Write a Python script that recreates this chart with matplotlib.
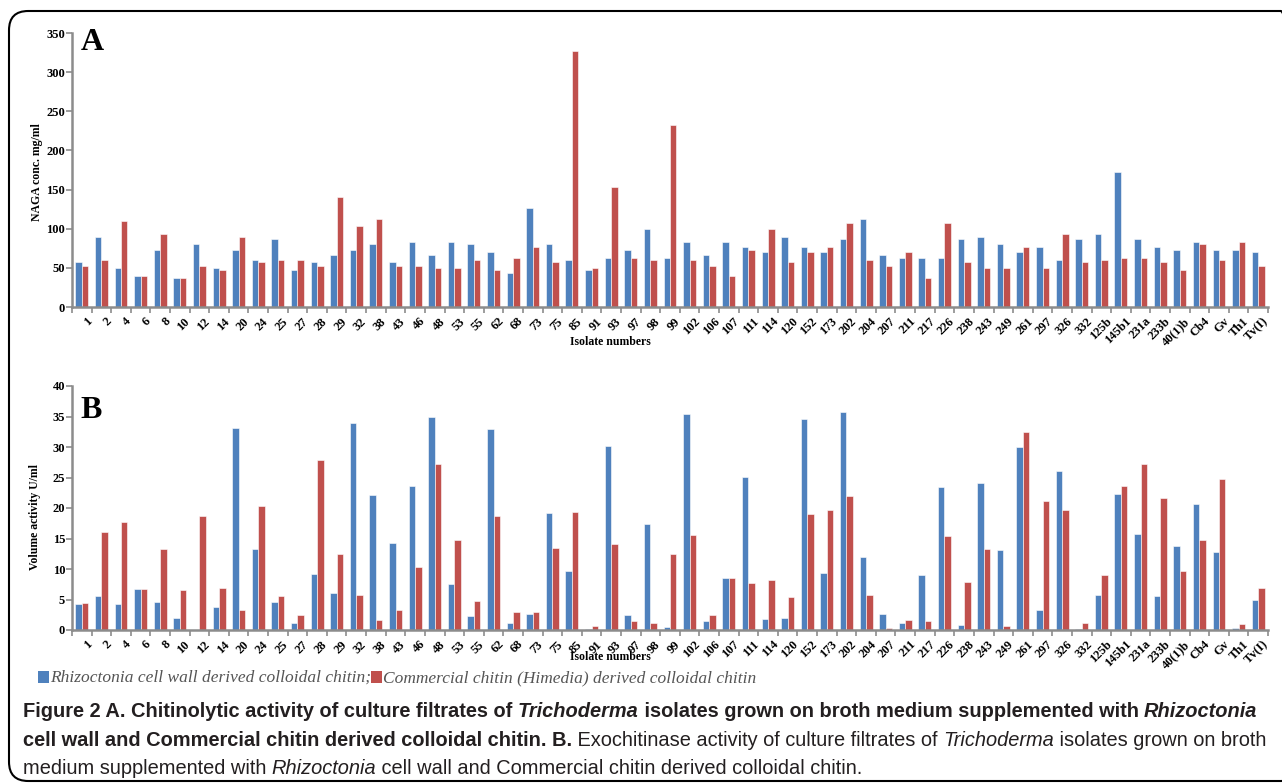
import matplotlib.pyplot as plt
import numpy as np
from matplotlib.patches import FancyBboxPatch, Rectangle
from matplotlib.transforms import ScaledTranslation

isolates = ['1', '2', '4', '6', '8', '10', '12', '14', '20', '24', '25', '27', '28', '29',
            '32', '38', '43', '46', '48', '53', '55', '62', '68', '73', '75', '85', '91',
            '93', '97', '98', '99', '102', '106', '107', '111', '114', '120', '152', '173',
            '202', '204', '207', '211', '217', '226', '238', '243', '249', '261', '297',
            '326', '332', '125b', '145b1', '231a', '233b', '40(1)b', 'Cb4', 'Gv', 'Th1', 'Tv(I)']

# panel A: NAGA conc. mg/ml
naga_rhizoctonia = [57, 90, 50, 40, 73, 37, 80, 50, 73, 60, 87, 47, 57, 67, 73, 80, 57, 83, 67,
                    83, 80, 70, 43, 127, 80, 60, 47, 63, 73, 100, 63, 83, 67, 83, 77, 70, 90,
                    77, 70, 87, 113, 67, 63, 63, 63, 87, 90, 80, 70, 77, 60, 87, 93, 173, 87,
                    77, 73, 83, 73, 73, 70]
naga_commercial = [53, 60, 110, 40, 93, 37, 53, 47, 90, 57, 60, 60, 53, 140, 103, 113, 53, 53,
                   50, 50, 60, 47, 63, 77, 57, 327, 50, 153, 63, 60, 233, 60, 53, 40, 73, 100,
                   57, 70, 77, 107, 60, 53, 70, 37, 107, 57, 50, 50, 77, 50, 93, 57, 60, 63,
                   63, 57, 47, 80, 60, 83, 53]

# panel B: volume activity U/ml
exo_rhizoctonia = [4.2, 5.5, 4.2, 6.7, 4.65, 2.0, 0.0, 3.7, 33.1, 13.35, 4.65, 1.15, 9.2, 6.0,
                   33.9, 22.2, 14.3, 23.6, 34.95, 7.5, 2.3, 32.9, 1.15, 2.7, 19.2, 9.7, 0.15,
                   30.2, 2.5, 17.3, 0.55, 35.4, 1.4, 8.6, 25.1, 1.8, 2.0, 34.6, 9.35, 35.7,
                   12.0, 2.7, 1.15, 9.0, 23.4, 0.77, 24.1, 13.1, 30.0, 3.3, 26.1, 0.15, 5.75,
                   22.3, 15.8, 5.6, 13.7, 20.7, 12.8, 0.4, 4.9]
exo_commercial = [4.4, 16.1, 17.7, 6.7, 13.3, 6.5, 18.65, 6.9, 3.3, 20.35, 5.6, 2.5, 27.8, 12.4,
                  5.7, 1.6, 3.3, 10.3, 27.2, 14.7, 4.8, 18.65, 2.95, 2.9, 13.5, 19.4, 0.7, 14.1,
                  1.4, 1.15, 12.4, 15.6, 2.5, 8.6, 7.65, 8.2, 5.4, 19.0, 19.6, 22.0, 5.7, 0.4,
                  1.6, 1.4, 15.4, 7.8, 13.35, 0.6, 32.5, 21.1, 19.75, 1.15, 9.0, 23.6, 27.2,
                  21.7, 9.6, 14.8, 24.8, 1.0, 6.9]

BLUE = '#4F81BD'
RED = '#C0504D'
GRAY = '#8C8C8C'
SERIF = 'Liberation Serif'
CAPFONT = ['Liberation Sans', 'DejaVu Sans']

W, H = 1282, 783
fig = plt.figure(figsize=(W / 100, H / 100), dpi=100)


def px(x, y):
    return x / W, 1 - y / H


def draw_panel(ax, blue_vals, red_vals, ymax, ystep, letter, letter_y, ylabel, ylab_xy, xlab_y):
    n = len(isolates)
    x = np.arange(n)
    w = 0.33
    ax.bar(x - w / 2, blue_vals, w, color=BLUE, edgecolor='white', linewidth=0.4)
    ax.bar(x + w / 2, red_vals, w, color=RED, edgecolor='white', linewidth=0.4)
    ax.set_xlim(-0.5, n - 0.5)
    ax.set_ylim(0, ymax)
    ax.set_yticks(np.arange(0, ymax + 1, ystep))
    for s in ['top', 'right']:
        ax.spines[s].set_visible(False)
    for s in ['left', 'bottom']:
        ax.spines[s].set_color(GRAY)
        ax.spines[s].set_linewidth(1.8)
    ax.set_xticks(np.arange(-0.5, n, 1))
    ax.set_xticks(x, minor=True)
    ax.set_xticklabels(isolates, minor=True, rotation=45, ha='right', va='top',
                       rotation_mode='anchor', fontfamily=SERIF, fontweight='bold', fontsize=9)
    ax.tick_params(axis='x', which='major', length=4, width=1.2, color=GRAY, labelbottom=False)
    ax.tick_params(axis='x', which='minor', length=0, pad=6)
    for lab in ax.get_xticklabels(minor=True):
        lab.set_transform(lab.get_transform() + ScaledTranslation(3 / 72, 0, fig.dpi_scale_trans))
    ax.tick_params(axis='y', length=4, width=1.2, color=GRAY, pad=1)
    for lab in ax.get_yticklabels():
        lab.set_fontfamily(SERIF)
        lab.set_fontweight('bold')
        lab.set_fontsize(9)
    ax.text(0.007, letter_y, letter, transform=ax.transAxes, fontsize=23, fontweight='bold',
            fontfamily=SERIF, va='top', ha='left')
    ax.set_ylabel(ylabel, fontfamily=SERIF, fontweight='bold', fontsize=8.5)
    ax.yaxis.set_label_coords(*ylab_xy)
    ax.text(0.45, xlab_y, 'Isolate numbers', transform=ax.transAxes, ha='center', va='center',
            fontfamily=SERIF, fontweight='bold', fontsize=8.5)


ax_a = fig.add_axes([72 / W, 1 - 307 / H, 1196 / W, 274 / H])
draw_panel(ax_a, naga_rhizoctonia, naga_commercial, 350, 50, 'A', 1.02,
           'NAGA conc. mg/ml', (-0.024, 0.493), -0.128)

ax_b = fig.add_axes([72 / W, 1 - 630 / H, 1196 / W, 244 / H])
draw_panel(ax_b, exo_rhizoctonia, exo_commercial, 40, 5, 'B', 0.96,
           'Volume activity U/ml', (-0.026, 0.463), -0.11)


def draw_runs(x, y, runs, family, size, color):
    renderer = fig.canvas.get_renderer()
    for item in runs:
        if item[0] == 'box':
            fx, fy = px(x, y + 1)
            fig.patches.append(Rectangle((fx, fy), 11 / W, 12 / H, transform=fig.transFigure,
                                         facecolor=item[1], edgecolor='none'))
            x += 12
            continue
        txt, weight, style = item
        fx, fy = px(x, y)
        t = fig.text(fx, fy, txt, fontfamily=family, fontsize=size, fontweight=weight,
                     fontstyle=style, color=color, va='baseline', ha='left')
        x += t.get_window_extent(renderer).width


# legend line
draw_runs(38, 682, [('box', BLUE), ('Rhizoctonia cell wall derived colloidal chitin;', 'normal', 'italic'),
                    ('box', RED), ('Commercial chitin (Himedia) derived colloidal chitin', 'normal', 'italic')],
          SERIF, 12.5, '#555555')

# caption
cap_bold = '#231F20'
draw_runs(23, 717, [('Figure 2 A. Chitinolytic activity of culture filtrates of ', 'bold', 'normal'),
                    ('Trichoderma', 'bold', 'italic'),
                    (' isolates grown on broth medium supplemented with ', 'bold', 'normal'),
                    ('Rhizoctonia', 'bold', 'italic')], CAPFONT, 14.4, cap_bold)
draw_runs(23, 746, [('cell wall and Commercial chitin derived colloidal chitin. B.', 'bold', 'normal'),
                    (' Exochitinase activity of culture filtrates of ', 'normal', 'normal'),
                    ('Trichoderma', 'normal', 'italic'),
                    (' isolates grown on broth', 'normal', 'normal')], CAPFONT, 14.4, cap_bold)
draw_runs(23, 774, [('medium supplemented with ', 'normal', 'normal'),
                    ('Rhizoctonia', 'normal', 'italic'),
                    (' cell wall and Commercial chitin derived colloidal chitin.', 'normal', 'normal')],
          CAPFONT, 14.4, cap_bold)

# rounded frame
x0, y0 = px(9, 781)
frame = FancyBboxPatch((x0, y0), (1300 - 9) / W, (781 - 11) / H, boxstyle='round,pad=0,rounding_size=0.015',
                       transform=fig.transFigure, facecolor='none', edgecolor='black', linewidth=1.5,
                       mutation_aspect=W / H)
fig.patches.append(frame)

fig.savefig('out.png', dpi=100)
